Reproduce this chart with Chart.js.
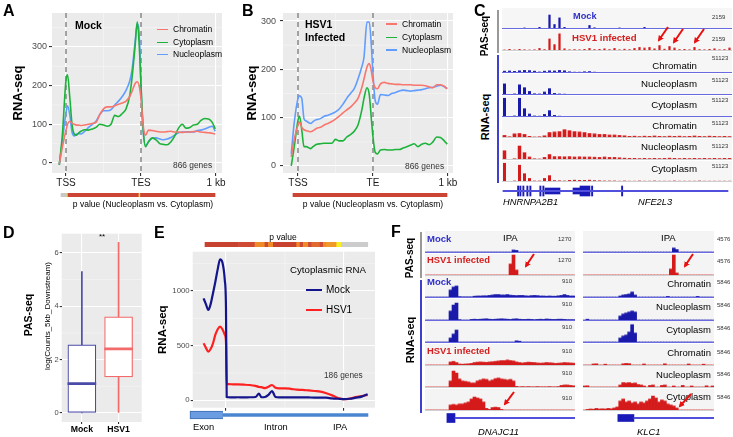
<!DOCTYPE html>
<html>
<head>
<meta charset="utf-8">
<script src="https://cdn.jsdelivr.net/npm/chart.js@4.4.1/dist/chart.umd.min.js"></script>
<style>
body { margin:0; width:733px; height:437px; position:relative; overflow:hidden; background:#fff; font-family:"Liberation Sans", Arial, sans-serif; color:#000; }
canvas { position:absolute; }
.t { position:absolute; white-space:nowrap; line-height:1; z-index:3; }
.rule { position:absolute; z-index:3; }
</style>
</head>
<body>
<canvas id="cA" width="236" height="192" style="left:0;top:0"></canvas>
<canvas id="cB" width="226" height="192" style="left:240px;top:0"></canvas>
<canvas id="cD" width="150" height="209" style="left:0;top:228px"></canvas>
<canvas id="cE" width="240" height="212" style="left:140px;top:225px"></canvas>

<svg width="733" height="437" style="position:absolute;left:0;top:0;z-index:4">
  <defs>
    <marker id="ah" markerWidth="3" markerHeight="3" refX="2" refY="1.5" orient="auto">
      <path d="M0,0 L3,1.5 L0,3 z" fill="#e81010"/>
    </marker>
  </defs>
  <g stroke="#e81010" stroke-width="2" marker-end="url(#ah)">
    <line x1="668" y1="27" x2="659" y2="40"/>
    <line x1="683" y1="29" x2="674" y2="42"/>
    <line x1="704" y1="29" x2="695" y2="42"/>
    <line x1="534" y1="254" x2="526" y2="266"/>
    <line x1="514" y1="392" x2="505" y2="404"/>
    <line x1="693" y1="254" x2="685" y2="266"/>
    <line x1="691" y1="394" x2="680" y2="406"/>
  </g>
</svg>

<script>
// ---------- Panels A and B : metagene profiles (TSS = 0, TES = 100, 1 kb = 200) ----------
const profileX = [-9,-5,0,2,5,8,11,14,17,20, 25,30,35,40,45,50,55,60,65,70, 75,80,85,88,92,95,98,100,103,106, 110,115,120,125,130,135,140,145,150,155, 160,165,170,175,180,185,190,195,199];
const profileTicks = [0, 100, 200];
const aTickLabels = ['TSS', 'TES', '1 kb'];
const bTickLabels = ['TSS', 'TE', '1 kb'];
const profileYTicks = [0, 100, 200, 300];
const seriesNames = ['Chromatin', 'Cytoplasm', 'Nucleoplasm'];
const seriesColors = ['#F8766D', '#1DB33A', '#619CFF'];

const aChromatin = [-3,40,85,100,108,103,100,98,98,97, 98,100,102,105,125,140,145,145,148,152, 155,160,172,185,205,210,195,165,95,72, 85,84,82,80,80,81,82,80,80,79, 80,80,81,82,80,79,78,77,75];
const aCytoplasm = [-5,70,215,228,170,100,75,72,78,82, 86,85,88,92,100,98,95,100,123,120, 128,140,175,220,300,365,290,200,85,42, 55,65,60,50,48,47,55,70,90,100, 90,92,98,100,110,115,114,105,88];
const aNucleoplasm = [-5,55,130,148,125,80,70,75,76,75, 82,92,100,108,125,135,135,138,150,160, 172,188,212,240,310,360,320,200,80,45, 55,64,65,62,60,62,66,72,78,80, 80,80,80,84,85,88,92,95,82];

const bChromatin = [19,55,85,91,80,75,73,72,71,73, 78,80,85,88,92,97,103,110,116,122, 130,140,162,180,205,212,195,175,162,160, 170,173,171,170,169,169,168,168,168,167, 167,167,166,164,162,168,168,165,160];
const bCytoplasm = [0,40,95,103,75,40,40,38,36,40, 45,46,47,47,47,55,52,52,60,65, 72,85,115,140,162,148,95,60,28,25, 33,34,33,33,34,34,37,40,43,46, 40,45,47,44,50,60,59,52,45];
const bNucleoplasm = [25,90,140,145,140,98,93,90,88,92, 96,98,103,105,108,112,118,128,140,150, 160,180,205,225,298,298,245,190,135,128, 148,147,146,150,152,155,157,156,155,156, 157,158,160,162,163,165,167,164,160];

// p value strips under A and B (same x units)
const aPvalSeg = [[-6.7,1.3],[1.3,2.7],[2.7,97.3],[97.3,99.3],[99.3,198.7]];
const aPvalColors = ['#c8c8c8','#f0e030','#cc4433','#f0e030','#cc4433'];
const bPvalSeg = [[-6.7,198.7]];
const bPvalColors = ['#cc4433'];

// ---------- Panel D : box plot ----------
const boxGroups = ['Mock', 'HSV1'];
const boxColors = ['#4a4aa8', '#f26a6a'];
const boxMin = [0, 0];
const boxQ1 = [0, 1.35];
const boxMedian = [1.1, 2.4];
const boxQ3 = [2.55, 3.6];
const boxMax = [5.3, 6.4];
const boxYTicks = [0, 2, 4, 6];

// ---------- Panel E : cytoplasmic RNA (exon end = 0, IPA = 100) ----------
const eX = [-19,-17,-15,-13,-11,-9,-7,-5,-3,-1, 0,0.6,2,6,10,15,20,25,28,30, 33,36,39,42,45,50,55,60,65,70, 75,80,85,90,95,100,105,110,115,120];
const eMock = [933,880,826,880,980,1085,1200,1290,1260,1100, 850,30,28,27,28,27,28,30,62,28, 30,50,85,30,27,27,26,27,27,26, 25,25,24,18,14,10,14,24,34,55];
const eHsv1 = [521,480,445,470,521,600,650,674,650,600, 537,150,148,146,145,143,140,132,122,120, 112,125,140,115,110,110,105,97,95,90, 85,80,65,45,20,10,15,30,38,50];
const eYTicks = [0, 500, 1000];
const ePvalSeg = [[-17.8,10.5],[10.5,24.6],[24.6,33],[33,35.9],[35.9,40.1],[40.1,59.9],[59.9,62.7],[62.7,65.5],[65.5,69.8],[69.8,72.6],[72.6,79.7],[79.7,82.5],[82.5,85.3],[85.3,93.8],[93.8,98],[98,120.1]];
const ePvalColors = ['#c8432f','#cf4a33','#ef8c2a','#cf4a33','#ef8c2a','#c8432f','#ef8c2a','#cf4a33','#ef8c2a','#cf4a33','#e06a30','#cf4a33','#ef8c2a','#ef9a2a','#f8f020','#cccccc'];
const eGeneExon = [[-30.5,-2.5]];
const eGeneIntron = [[-2.5,120.3]];

// ---------- Panel C : browser tracks (46 bins, scaled 0-100) ----------
const cPasMock = [0,0,0,0,2,0,0,5,0,70, 20,55,5,0,0,0,0,15,3,0, 0,0,0,2,0,0,0,0,5,0, 0,0,0,0,0,0,0,0,0,0, 0,0,0,0,0,0];
const cPasHsv1 = [2,5,2,5,3,2,3,10,4,60, 30,87,8,3,4,3,5,10,4,5, 8,4,10,3,6,4,10,15,12,15, 8,25,6,20,12,4,5,3,15,4, 3,5,8,3,4,12];
const cChrMock = [6,7,5,8,10,9,6,2,6,8, 7,10,8,3,1,1,3,4,1,0, 0,0,0,0,0,0,0,0,0,0, 0,0,0,0,0,0,0,0,0,0, 0,0,0,0,0,0];
const cNucMock = [55,0,2,50,35,15,3,2,12,30, 5,2,1,0,0,0,0,0,0,0, 0,0,0,0,0,0,0,0,0,0, 0,0,0,0,0,0,0,0,0,0, 0,0,0,0,0,0];
const cCytMock = [95,0,2,95,40,12,2,1,10,30, 5,1,0,0,0,0,0,0,0,0, 0,0,0,0,0,0,0,0,0,0, 0,0,0,0,0,0,0,0,0,0, 0,0,0,0,0,0];
const cChrHsv1 = [10,3,18,20,15,5,2,3,8,25, 28,30,40,35,30,28,25,20,18,15, 15,12,12,10,8,5,6,4,6,5, 7,5,4,6,5,6,4,5,7,5, 4,6,5,4,5,4];
const cNucHsv1 = [45,0,3,70,35,12,3,2,10,25, 14,14,13,14,12,13,12,12,11,10, 12,10,10,8,6,5,5,4,5,4, 5,4,5,6,5,4,5,4,5,4, 5,4,5,4,5,5];
const cCytHsv1 = [95,0,2,85,40,15,2,2,15,30, 4,3,2,5,6,5,5,6,4,3, 2,2,2,1,2,1,1,2,1,1, 2,1,1,1,2,1,1,1,1,2, 1,1,1,1,1,1];
const cGeneIntron = [[0.2,45.2]];
const cGeneUtr = [[8.6,11.6],[14.2,15.6]];
const cGeneCds = [[15.6,17.6]];
const cGeneTicks = [[3.1,3.35],[3.55,3.8],[4.15,4.4],[4.95,5.2],[5.55,5.8],[7.55,7.8],[8.15,8.4],[17.9,18.15],[23.9,24.15]];

// ---------- Panel F : DNAJC11 (50 bins) and KLC1 (44 bins) ----------
const fLPasMock = [0,0,0,0,0,0,0,0,0,0, 0,0,0,0,0,0,0,0,0,0, 0,0,0,0,0,0,0,0,0,10, 8,0,0,0,0,0,0,0,0,0, 0,0,0,0,0,0,0,0,0,0];
const fLPasHsv1 = [0,0,0,0,0,0,0,0,0,0, 0,0,0,0,0,0,0,0,0,0, 0,0,0,0,0,0,0,0,55,100, 25,0,0,0,0,0,0,0,0,0, 0,0,0,0,0,0,0,0,0,0];
const fLChrMock = [0,0,0,0,0,0,0,0,35,50, 55,2,1,1,1,1,4,5,5,6, 6,8,10,12,12,10,10,12,9,8, 7,8,8,6,5,7,8,7,5,5, 4,5,4,4,6,8,12,8,5,5];
const fLNucMock = [0,0,0,0,0,0,0,0,45,75, 85,2,0,0,0,3,4,3,4,5, 6,4,3,4,5,6,5,4,3,5, 6,4,3,3,4,3,2,3,4,3, 5,4,3,3,4,4,3,2,2,2];
const fLCytMock = [0,0,0,0,0,0,0,0,20,40, 60,0,0,0,0,0,0,0,0,0, 0,0,0,0,0,0,0,0,0,0, 6,4,0,0,0,0,0,0,0,0, 0,0,0,0,0,0,0,0,0,0];
const fLChrHsv1 = [0,0,0,0,0,0,0,0,15,18, 12,5,4,5,6,8,12,14,15,14, 13,15,16,18,20,22,22,25,22,20, 15,12,10,12,14,13,12,10,9,10, 12,11,10,8,9,10,12,11,10,9];
const fLNucHsv1 = [0,0,0,0,0,0,0,0,30,80, 70,40,30,28,25,20,20,30,35,40, 38,30,35,42,45,40,38,35,38,30, 3,1,2,1,2,1,1,2,1,1, 1,2,1,1,2,8,10,10,8,6];
const fLCytHsv1 = [0,0,0,0,0,0,0,0,25,28, 25,30,30,35,40,55,65,60,55,40, 8,3,12,14,12,3,0,0,0,0, 0,0,0,0,0,0,0,0,0,0, 0,0,0,0,0,0,0,0,0,0];
const fRPasMock = [0,0,0,0,0,0,0,0,0,0, 0,0,0,0,0,0,0,0,0,0, 0,0,0,0,0,0,0,0,0,0, 20,12,0,0,0,0,0,0,0,0, 0,0,0,0];
const fRPasHsv1 = [0,0,0,0,0,0,0,0,0,0, 0,0,0,0,0,0,0,0,0,0, 0,0,0,0,0,0,0,0,0,30, 100,10,0,0,0,0,0,0,0,0, 0,0,0,0];
const fRChrMock = [0,0,0,0,0,0,0,0,0,0, 0,0,5,10,12,15,25,10,0,0, 0,0,0,0,0,0,0,0,3,0, 0,0,0,0,0,0,0,0,3,0, 0,0,0,0];
const fRNucMock = [0,4,0,0,0,0,0,0,0,0, 0,0,20,30,35,40,45,40,0,0, 0,0,0,0,0,0,0,0,0,0, 0,0,0,0,0,0,0,0,0,0, 0,0,0,0];
const fRCytMock = [0,0,0,0,0,0,0,0,0,0, 0,0,20,30,35,50,87,45,0,0, 0,0,0,0,0,0,0,0,0,0, 0,0,0,0,0,0,0,0,0,0, 0,0,0,0];
const fRChrHsv1 = [0,0,0,5,6,0,0,4,0,0, 0,0,0,6,8,7,0,0,0,0, 5,0,0,0,0,0,0,6,0,0, 0,0,0,0,0,5,0,0,0,0, 4,0,0,0];
const fRNucHsv1 = [5,6,0,0,0,0,0,0,0,0, 0,0,10,22,20,22,18,20,12,10, 5,0,8,10,0,0,8,10,0,0, 5,0,0,8,0,0,5,0,0,0, 0,6,0,5];
const fRCytHsv1 = [0,3,5,4,8,5,6,5,8,6, 10,15,45,55,40,45,35,40,30,40, 35,45,55,70,60,40,50,45,30,25, 20,10,0,0,0,0,0,0,0,0, 0,0,0,0];
const fLGeneIntron = [[10,50]];
const fLGeneExon = [[7.3,10]];
const fRGeneIntron = [[17.1,44]];
const fRGeneExon = [[11.7,17.1]];

const trackBlue = '#1a1aaa';
const trackRed = '#d41a1a';
const mockLine = '#6a6ae0';
const hsvLine = '#cfcfcf';

Chart.defaults.font.family = '"Liberation Sans", Arial, sans-serif';

// Grey ggplot background, minor grid and dashed marker lines
const ggBg = {
  id: 'ggBg',
  beforeDraw(chart, args, opts) {
    if (!opts.color) return;
    const { ctx, chartArea: a, scales } = chart;
    ctx.save();
    ctx.fillStyle = opts.color;
    ctx.fillRect(a.left, a.top, a.width, a.height);
    ctx.strokeStyle = '#f6f6f6';
    ctx.lineWidth = 0.6;
    (opts.minorX || []).forEach(v => {
      const px = scales.x.getPixelForValue(v);
      ctx.beginPath(); ctx.moveTo(px, a.top); ctx.lineTo(px, a.bottom); ctx.stroke();
    });
    (opts.minorY || []).forEach(v => {
      const py = scales.y.getPixelForValue(v);
      ctx.beginPath(); ctx.moveTo(a.left, py); ctx.lineTo(a.right, py); ctx.stroke();
    });
    ctx.restore();
  },
  beforeDatasetsDraw(chart, args, opts) {
    if (!opts.dashed) return;
    const { ctx, chartArea: a, scales } = chart;
    ctx.save();
    ctx.strokeStyle = '#999';
    ctx.lineWidth = 1.8;
    ctx.setLineDash([5, 4]);
    opts.dashed.forEach(v => {
      const px = scales.x.getPixelForValue(v);
      ctx.beginPath(); ctx.moveTo(px, a.top); ctx.lineTo(px, a.bottom); ctx.stroke();
    });
    ctx.restore();
  }
};
Chart.register(ggBg);

const quiet = { legend: { display: false }, tooltip: { enabled: false } };

function valueTicks(list) {
  return ax => { ax.ticks = list.map(v => ({ value: v })); };
}

// Profile charts for A and B
function profileChart(id, values, yMin, yMax, xMin, xMax, xLabels, yWidth, padRight, titlePad, tickPad) {
  return new Chart(document.getElementById(id), {
    type: 'line',
    data: {
      datasets: values.map((vals, k) => ({
        label: seriesNames[k],
        data: profileX.map((x, i) => ({ x, y: vals[i] })),
        borderColor: seriesColors[k],
        borderWidth: 1.6,
        pointRadius: 0,
        cubicInterpolationMode: 'monotone'
      }))
    },
    options: {
      responsive: false, animation: false, events: [],
      layout: { padding: { top: 13, right: padRight, left: 0, bottom: 0 } },
      plugins: { ...quiet, ggBg: { color: '#ebebeb', minorX: [50, 150], minorY: [50, 150, 250, 350], dashed: [0, 100] } },
      scales: {
        x: {
          type: 'linear', min: xMin, max: xMax,
          afterBuildTicks: valueTicks(profileTicks),
          afterFit: ax => { ax.height = 19; },
          ticks: { callback: v => xLabels[profileTicks.indexOf(v)], color: '#1a1a1a', font: { size: 10 }, padding: 1, maxRotation: 0, autoSkip: false },
          grid: { color: '#fff', lineWidth: 1.1, tickLength: 3, tickColor: '#333' },
          border: { display: false }
        },
        y: {
          min: yMin, max: yMax,
          afterBuildTicks: valueTicks(profileYTicks),
          afterFit: ax => { ax.width = yWidth; },
          ticks: { color: '#4d4d4d', font: { size: 9 }, padding: tickPad },
          grid: { color: '#fff', lineWidth: 1.1, tickLength: 3, tickColor: '#333' },
          border: { display: false },
          title: { display: true, text: 'RNA-seq', color: '#000', font: { size: 13, weight: 'bold' }, padding: { top: titlePad, bottom: 0 } }
        }
      }
    }
  });
}

profileChart('cA', [aChromatin, aCytoplasm, aNucleoplasm], -26, 388, -18.7, 208, aTickLabels, 52, 14, 11, 2);
profileChart('cB', [bChromatin, bCytoplasm, bNucleoplasm], -14.5, 316.6, -20, 206.7, bTickLabels, 43, 13, 4.7, 4);

// Box plot D
new Chart(document.getElementById('cD'), {
  type: 'bar',
  data: {
    datasets: [
      { data: boxGroups.map((g, i) => ({ x: i + 1, y: [boxMedian[i] - 0.04, boxMedian[i] + 0.04] })), backgroundColor: boxColors, barThickness: 28, grouped: false, order: 0 },
      { data: boxGroups.map((g, i) => ({ x: i + 1, y: [boxQ1[i], boxQ3[i]] })), backgroundColor: '#fff', borderColor: boxColors, borderWidth: 1.2, borderSkipped: false, barThickness: 28, grouped: false, order: 1 },
      { data: boxGroups.map((g, i) => ({ x: i + 1, y: [boxQ3[i], boxMax[i]] })), backgroundColor: boxColors, barThickness: 1, grouped: false, order: 2 },
      { data: boxGroups.map((g, i) => ({ x: i + 1, y: [boxMin[i], boxQ1[i]] })), backgroundColor: boxColors, barThickness: 1, grouped: false, order: 2 }
    ]
  },
  options: {
    responsive: false, animation: false, events: [],
    layout: { padding: { top: 5.7, right: 8.3, left: 0, bottom: 0 } },
    plugins: { ...quiet, ggBg: { color: '#ebebeb', minorY: [1, 3, 5] } },
    scales: {
      x: {
        type: 'linear', min: 0.45, max: 2.63, offset: false,
        afterBuildTicks: valueTicks([1, 2]),
        afterFit: ax => { ax.height = 15; },
        ticks: { callback: v => boxGroups[v - 1], color: '#000', font: { size: 8.7, weight: 'bold' }, padding: 0 },
        grid: { color: '#fff', lineWidth: 1.1, tickLength: 2, tickColor: '#333', offset: false },
        border: { display: false }
      },
      y: {
        min: -0.34, max: 6.72,
        afterBuildTicks: valueTicks(boxYTicks),
        afterFit: ax => { ax.width = 61.7; },
        ticks: { color: '#4d4d4d', font: { size: 7.5 }, padding: 1 },
        grid: { color: '#fff', lineWidth: 1.1, tickLength: 2, tickColor: '#333' },
        border: { display: false }
      }
    }
  }
});

// Line chart E
new Chart(document.getElementById('cE'), {
  type: 'line',
  data: {
    datasets: [
      { label: 'Mock', data: eX.map((x, i) => ({ x, y: eMock[i] })), borderColor: '#14148c', borderWidth: 2.2, pointRadius: 0, cubicInterpolationMode: 'monotone' },
      { label: 'HSV1', data: eX.map((x, i) => ({ x, y: eHsv1[i] })), borderColor: '#ff2020', borderWidth: 2.2, pointRadius: 0, cubicInterpolationMode: 'monotone' }
    ]
  },
  options: {
    responsive: false, animation: false, events: [],
    layout: { padding: { top: 26.7, right: 5, left: 0, bottom: 0 } },
    plugins: { ...quiet, ggBg: { color: '#ebebeb', minorX: [50], minorY: [250, 750, 1250] } },
    scales: {
      x: {
        type: 'linear', min: -28.2, max: 126.3,
        afterBuildTicks: valueTicks([0, 100]),
        afterFit: ax => { ax.height = 29.3; },
        ticks: { display: false },
        grid: { color: '#fff', lineWidth: 1.1, tickLength: 3, tickColor: '#333' },
        border: { display: false }
      },
      y: {
        min: -67.7, max: 1359.5,
        afterBuildTicks: valueTicks(eYTicks),
        afterFit: ax => { ax.width = 52.7; },
        ticks: { callback: v => String(v), color: '#4d4d4d', font: { size: 7.8 }, padding: 1 },
        grid: { color: '#fff', lineWidth: 1.1, tickLength: 2, tickColor: '#333' },
        border: { display: false },
        title: { display: true, text: 'RNA-seq', color: '#000', font: { size: 11.5, weight: 'bold' }, padding: { top: 16, bottom: 0 } }
      }
    }
  }
});

// Small helper canvases
function makeCanvas(left, top, width, height, css) {
  const cv = document.createElement('canvas');
  cv.width = width;
  cv.height = height;
  cv.style.left = left + 'px';
  cv.style.top = top + 'px';
  if (css) cv.style.cssText += css;
  document.body.appendChild(cv);
  return cv;
}

// Horizontal p value strip
function stripChart(left, top, width, height, xMin, xMax, segs, colors) {
  new Chart(makeCanvas(left, top, width, height), {
    type: 'bar',
    data: { labels: ['p'], datasets: [{ data: segs.map(s => ({ x: s, y: 'p' })), backgroundColor: colors, barPercentage: 1, categoryPercentage: 1, grouped: false }] },
    options: {
      indexAxis: 'y', responsive: false, animation: false, events: [], plugins: quiet,
      scales: { x: { type: 'linear', display: false, min: xMin, max: xMax }, y: { display: false } }
    }
  });
}

stripChart(55, 193, 170, 4, -14.67, 212, aPvalSeg, aPvalColors);
stripChart(286, 193, 170, 4, -16, 210.67, bPvalSeg, bPvalColors);
stripChart(200, 242, 172, 5, -22.03, 123.7, ePvalSeg, ePvalColors);

// Coverage track
function trackChart(left, top, width, height, values, color, lineColor, bg, barPct) {
  const cv = makeCanvas(left, top, width, height, `background:${bg};border-bottom:1px solid ${lineColor};`);
  new Chart(cv, {
    type: 'bar',
    data: { labels: values.map((v, i) => i), datasets: [{ data: values, backgroundColor: color, categoryPercentage: 1, barPercentage: barPct }] },
    options: {
      responsive: false, animation: false, events: [], plugins: quiet,
      scales: { x: { display: false }, y: { display: false, min: 0, max: 105 } }
    }
  });
}

// Gene model (exons as floating bars)
function geneChart(left, top, width, height, xMin, xMax, parts) {
  new Chart(makeCanvas(left, top, width, height), {
    type: 'bar',
    data: {
      labels: ['g'],
      datasets: parts.map(p => ({
        data: p.ranges.map(r => ({ x: r, y: 'g' })),
        backgroundColor: p.color, borderColor: p.border || p.color, borderWidth: p.border ? 1 : 0,
        barThickness: p.size, grouped: false
      }))
    },
    options: {
      indexAxis: 'y', responsive: false, animation: false, events: [], plugins: quiet,
      scales: { x: { type: 'linear', display: false, min: xMin, max: xMax }, y: { display: false } }
    }
  });
}

// Panel C tracks
const cTracks = [cPasMock, cPasHsv1, cChrMock, cNucMock, cCytMock, cChrHsv1, cNucHsv1, cCytHsv1];
const cTops = [8, 30, 52, 74, 96, 117, 139, 161];
const cBarPct = [0.45, 0.45, 0.6, 0.6, 0.6, 0.75, 0.7, 0.6];
const isMock = [true, false, true, true, true, false, false, false];
cTracks.forEach((vals, i) => {
  trackChart(502, cTops[i], 230, 21, vals, isMock[i] ? trackBlue : trackRed, isMock[i] ? mockLine : hsvLine, '#f6f6f6', cBarPct[i]);
});
geneChart(502, 184, 230, 14, 0, 46, [
  { ranges: cGeneIntron, size: 1.5, color: '#5050dd' },
  { ranges: cGeneUtr, size: 6, color: '#1a1ab8' },
  { ranges: cGeneCds, size: 10, color: '#1a1ab8' },
  { ranges: cGeneTicks, size: 10, color: '#1a1ab8' }
]);

// Panel F tracks
const fLeft = [fLPasMock, fLPasHsv1, fLChrMock, fLNucMock, fLCytMock, fLChrHsv1, fLNucHsv1, fLCytHsv1];
const fRight = [fRPasMock, fRPasHsv1, fRChrMock, fRNucMock, fRCytMock, fRChrHsv1, fRNucHsv1, fRCytHsv1];
const fTops = [231, 254, 276, 299, 321, 344, 366, 389];
fLeft.forEach((vals, i) => {
  trackChart(425, fTops[i], 150, 22, vals, isMock[i] ? trackBlue : trackRed, isMock[i] ? mockLine : hsvLine, '#f4f4f4', 1);
});
fRight.forEach((vals, i) => {
  trackChart(583, fTops[i], 131, 22, vals, isMock[i] ? trackBlue : trackRed, isMock[i] ? mockLine : hsvLine, '#f4f4f4', 1);
});
geneChart(425, 411, 150, 14, 0, 50, [
  { ranges: fLGeneIntron, size: 1.5, color: '#5050dd' },
  { ranges: fLGeneExon, size: 9, color: '#1a1ab8' }
]);
geneChart(583, 411, 131, 14, 0, 44, [
  { ranges: fRGeneIntron, size: 1.5, color: '#5050dd' },
  { ranges: fRGeneExon, size: 7, color: '#1a1ab8' }
]);

// Panel E gene model
geneChart(185, 409, 195, 12, -34.7, 130.5, [
  { ranges: eGeneIntron, size: 3, color: '#4a86cf' },
  { ranges: eGeneExon, size: 8, color: '#6b9be0', border: '#3b6db3' }
]);

// ---------- Text ----------
function label(text, x, cy, size, extra) {
  const d = document.createElement('div');
  d.className = 't';
  d.textContent = text;
  d.style.left = x + 'px';
  d.style.top = (cy - size * 0.5) + 'px';
  d.style.fontSize = size + 'px';
  if (extra) Object.assign(d.style, extra);
  document.body.appendChild(d);
  return d;
}
function labelRight(text, xRight, cy, size, extra) {
  const d = label(text, 0, cy, size, extra);
  d.style.left = 'auto';
  d.style.right = (733 - xRight) + 'px';
  return d;
}
function labelCenter(text, cx, cy, size, extra) {
  const d = label(text, cx, cy, size, extra);
  d.style.transform = 'translateX(-50%)';
  return d;
}
function vlabel(text, cx, cy, size, weight) {
  const d = label(text, cx, cy, size, { fontWeight: weight || 'bold' });
  d.style.top = cy + 'px';
  d.style.transform = 'translate(-50%,-50%) rotate(-90deg)';
  return d;
}
function rule(x, y1, y2, color) {
  const d = document.createElement('div');
  d.className = 'rule';
  d.style.cssText += `left:${x}px;top:${y1}px;width:1.5px;height:${y2 - y1}px;background:${color}`;
  document.body.appendChild(d);
}
function legendKey(x, cy, w, color, thick) {
  const d = document.createElement('div');
  d.className = 'rule';
  d.style.cssText += `left:${x}px;top:${cy - thick / 2}px;width:${w}px;height:${thick}px;background:${color}`;
  document.body.appendChild(d);
}

const bold = { fontWeight: 'bold' };
const blueBold = { fontWeight: 'bold', color: '#3030c8' };
const redBold = { fontWeight: 'bold', color: '#d42020' };
const tiny = { color: '#333' };
const ital = { fontStyle: 'italic' };

// Panel letters
[['A', 3, 11], ['B', 242, 11], ['C', 474, 11], ['D', 3, 233], ['E', 154, 233], ['F', 391, 232]].forEach(p => label(p[0], p[1], p[2], 16, bold));

// A
label('Mock', 75, 25, 10.5, bold);
[29.3, 42.3, 54.3].forEach((y, k) => { legendKey(157, y, 11, seriesColors[k], 1.6); label(seriesNames[k], 173, y, 8.5); });
label('866 genes', 173, 165, 8.4, tiny);
labelCenter('p value (Nucleoplasm vs. Cytoplasm)', 143, 204, 8.5);

// B
label('HSV1', 305, 24, 10.5, bold);
label('Infected', 305, 37.5, 10.5, bold);
[24, 37.3, 50].forEach((y, k) => { legendKey(386, y, 11, seriesColors[k], 1.6); label(seriesNames[k], 402, y, 8.5); });
label('866 genes', 405, 166, 8.4, tiny);
labelCenter('p value (Nucleoplasm vs. Cytoplasm)', 373, 204, 8.5);

// C
vlabel('PAS-seq', 485, 36, 10);
vlabel('RNA-seq', 485, 117, 11);
rule(497, 10, 53, '#999');
rule(497, 55, 183, '#4040d0');
label('Mock', 573, 16.7, 9.2, blueBold);
label('HSV1 infected', 572, 37.5, 9.6, redBold);
label('2159', 712, 17, 6, tiny);
label('2159', 712, 39, 6, tiny);
[57.5, 80, 100, 123, 145.5, 166].forEach(y => label('51123', 712, y, 6, tiny));
const cNames = ['Chromatin', 'Nucleoplasm', 'Cytoplasm', 'Chromatin', 'Nucleoplasm', 'Cytoplasm'];
[66, 84, 105, 126, 147, 169].forEach((y, i) => labelRight(cNames[i], 697, y, 9.7));
label('HNRNPA2B1', 503, 203, 9.3, ital);
label('NFE2L3', 638, 203, 9.3, ital);

// D
labelCenter('**', 102, 237, 8);
vlabel('PAS-seq', 28, 315, 10.5);
vlabel('log(Counts_5kb_Downstream)', 48, 316, 8, 'normal');

// E
labelCenter('p value', 283, 237, 8.5);
label('Cytoplasmic RNA', 290, 270, 9.7);
legendKey(306, 290, 16, '#14148c', 2.5);
legendKey(306, 310, 16, '#ff2020', 2.5);
label('Mock', 326, 290, 10);
label('HSV1', 326, 310, 10);
label('186 genes', 324, 375, 8.3, tiny);
label('Exon', 193, 428, 9.3);
label('Intron', 264, 428, 9.3);
label('IPA', 333, 428, 9.3);

// F
vlabel('PAS-seq', 410, 258, 10);
vlabel('RNA-seq', 410, 340, 11);
rule(420, 232, 278, '#999');
rule(420, 280, 413, '#4040d0');
label('Mock', 427, 238.3, 9.5, blueBold);
label('IPA', 503, 238, 9.5);
label('IPA', 661, 237.7, 9.5);
label('1270', 558, 239, 6, tiny);
label('1270', 558, 260, 6, tiny);
label('4576', 717, 239, 6, tiny);
label('4576', 717, 261, 6, tiny);
label('HSV1 infected', 427, 260, 9.4, redBold);
label('Mock', 427, 282, 9.5, blueBold);
label('HSV1 infected', 427, 351, 9.4, redBold);
[281, 304, 326.5, 351, 373, 397.5].forEach(y => label('910', 562, y, 6, tiny));
[281.7, 305, 327.7, 351.7, 374.3, 396.7].forEach(y => label('5846', 717, y, 6, tiny));
[283.3, 307, 330, 353, 375, 397].forEach((y, i) => labelRight(cNames[i], 711, y, 9.5));
label('DNAJC11', 478, 432, 9.4, ital);
label('KLC1', 637, 432, 9.4, ital);
</script>
</body>
</html>
